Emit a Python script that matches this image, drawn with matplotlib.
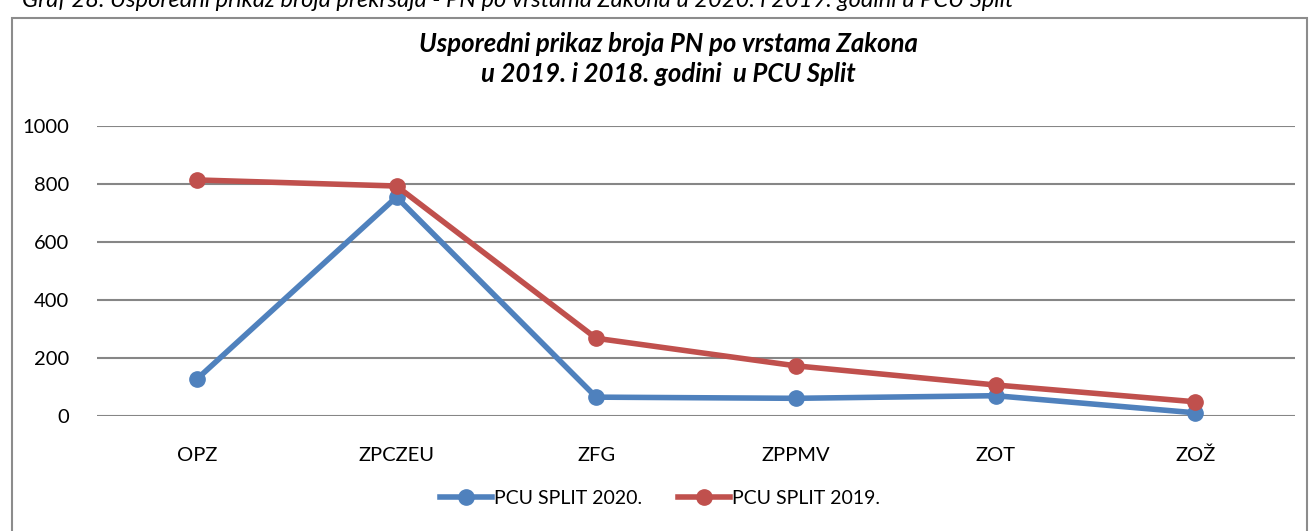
import matplotlib
matplotlib.use("Agg")
import matplotlib.pyplot as plt
from matplotlib.patches import Rectangle

categories = ["OPZ", "ZPCZEU", "ZFG", "ZPPMV", "ZOT", "ZOŽ"]
pcu_2020 = [127, 755, 65, 61, 70, 11]
pcu_2019 = [814, 793, 268, 173, 107, 49]
yticks = [0, 200, 400, 600, 800, 1000]

W, H = 1309, 531
plt.rcParams["font.family"] = ["Lato", "DejaVu Sans"]

fig = plt.figure(figsize=(W / 100, H / 100), dpi=100)

# outer chart frame
fig.patches.append(Rectangle((12 / W, -0.01), (1307 - 12) / W, (H - 18) / H + 0.01,
                             transform=fig.transFigure, fill=False,
                             edgecolor="#8c8c8c", lw=1.5))

# document caption above the chart (cut by the page edge, as in the source)
fig.text(22 / W, 1 - 7 / H,
         "Graf 28. Usporedni prikaz broja prekršaja - PN po vrstama Zakona u 2020. i 2019. godini u PCU Split",
         fontsize=17, style="italic", va="baseline", ha="left", color="#000")

ax = fig.add_axes([97 / W, (H - 416) / H, (1295 - 97) / W, (416 - 126) / H])
x = list(range(len(categories)))
ax.plot(x, pcu_2020, "-o", color="#4F81BD", lw=4, ms=11, clip_on=False,
        label="PCU SPLIT 2020.", zorder=3)
ax.plot(x, pcu_2019, "-o", color="#C0504D", lw=4, ms=11, clip_on=False,
        label="PCU SPLIT 2019.", zorder=3)

ax.set_xlim(-0.5, len(categories) - 0.5)
ax.set_ylim(0, 1000)
ax.set_yticks(yticks)
ax.set_xticks(x)
ax.set_xticklabels(categories)
ax.tick_params(length=0, labelsize=14.5)
ax.tick_params(axis="x", pad=22)
ax.tick_params(axis="y", pad=20)
ax.grid(axis="y", color="#868686", lw=1.5)
ax.set_axisbelow(True)
for s in ax.spines.values():
    s.set_visible(False)

fig.text(668 / W, 1 - 59 / H,
         "Usporedni prikaz broja PN po vrstama Zakona\nu 2019. i 2018. godini  u PCU Split",
         ha="center", va="center", fontsize=18.5, weight="bold", style="italic",
         linespacing=1.25)

ax.legend(loc="center", bbox_to_anchor=(660 / W, 1 - 498 / H),
          bbox_transform=fig.transFigure, ncol=2, frameon=False,
          fontsize=14, handlelength=2.7, columnspacing=1.8, handletextpad=0.1)

fig.savefig("out.png", dpi=100)
